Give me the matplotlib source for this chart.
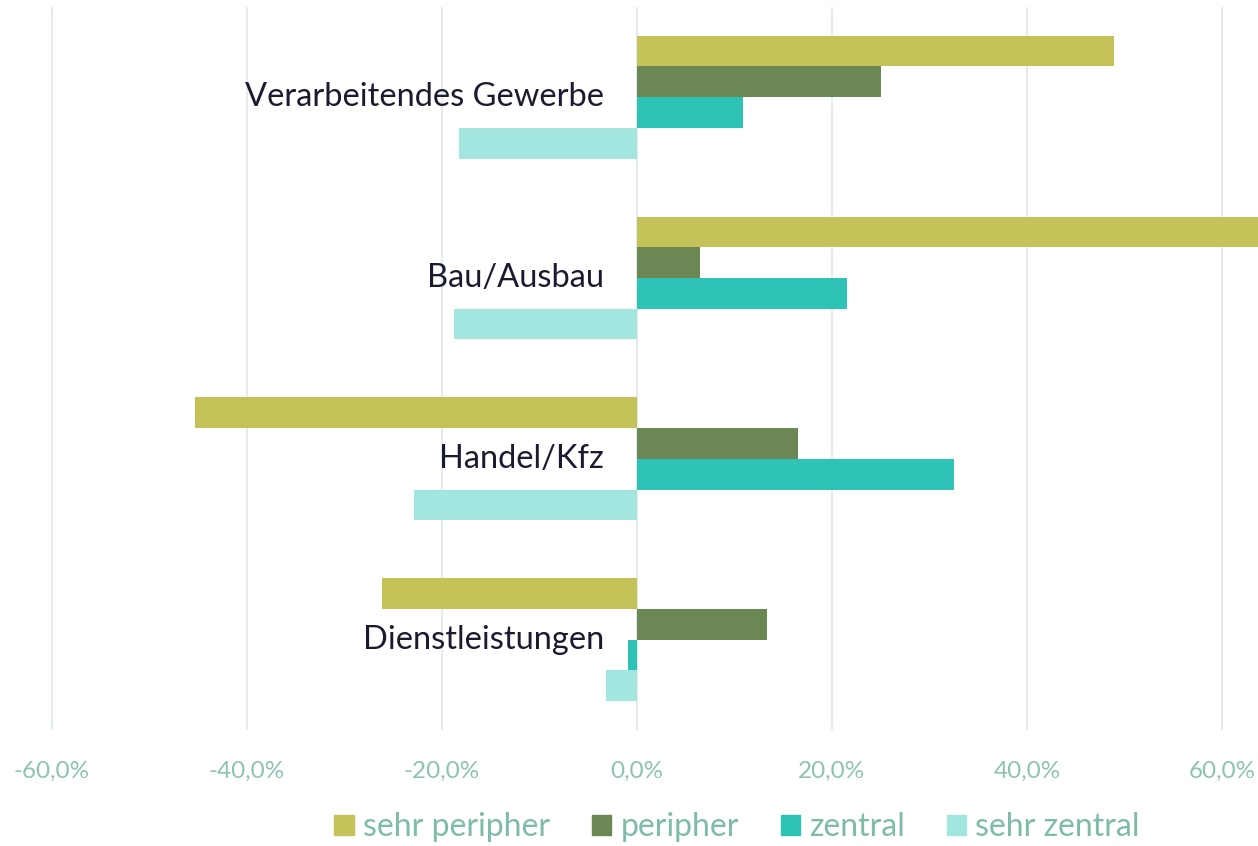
import numpy as np, matplotlib
matplotlib.use("Agg"); import matplotlib.pyplot as plt
import matplotlib.transforms as mtransforms
from matplotlib.patches import Patch

plt.rcParams['font.family'] = ['Lato', 'DejaVu Sans']

# data (percent)
categories = ["Verarbeitendes Gewerbe", "Bau/Ausbau", "Handel/Kfz", "Dienstleistungen"]
series = ["sehr peripher", "peripher", "zentral", "sehr zentral"]
sehr_peripher = [48.9, 65.5, -45.3, -26.1]
peripher = [25.0, 6.5, 16.5, 13.3]
zentral = [10.9, 21.6, 32.5, -0.9]
sehr_zentral = [-18.2, -18.7, -22.8, -3.2]
ticks = [-60, -40, -20, 0, 20, 40, 60]
tick_labels = ["-60,0%", "-40,0%", "-20,0%", "0,0%", "20,0%", "40,0%", "60,0%"]

colors = ["#C5C25A", "#6B8753", "#2EC3B6", "#A2E6DF"]
vals = [sehr_peripher, peripher, zentral, sehr_zentral]

fig = plt.figure(figsize=(12.58, 8.46), dpi=100)
ax = fig.add_axes([0, 0.137, 1, 0.855])
h = 0.17
y = np.arange(len(categories))
for k, (v, c) in enumerate(zip(vals, colors)):
    ax.barh(y + (k - 1.5) * h, v, height=h, color=c, zorder=3)

ax.set_xlim(-65.3, 63.7)
ax.set_ylim(3.5, -0.5)
ax.set_xticks(ticks)
ax.set_xticklabels(tick_labels, fontsize=17.5, color="#8CC3B3")
ax.tick_params(axis="x", length=0, pad=22)
ax.set_yticks([])
ax.grid(axis="x", color="#E3ECEA", lw=1.3, zorder=0)
ax.axvline(0, color="#E3ECEA", lw=1.3, zorder=1)
for s in ax.spines.values():
    s.set_visible(False)

off = mtransforms.offset_copy(ax.transData, fig=fig, x=-33, y=0, units="dots")
for i, cat in enumerate(categories):
    ax.text(0, i, cat, transform=off, ha="right", va="center", fontsize=23.5, color="#1B1B2F", zorder=5)

handles = [Patch(color=c, label=s) for c, s in zip(colors, series)]
fig.legend(handles=handles, loc="center", bbox_to_anchor=(0.586, 0.022), ncol=4, frameon=False,
           fontsize=23, labelcolor="#7FBBAA", handlelength=0.6, handleheight=0.6,
           handletextpad=0.3, columnspacing=1.3)

plt.savefig("out.png", dpi=100)
